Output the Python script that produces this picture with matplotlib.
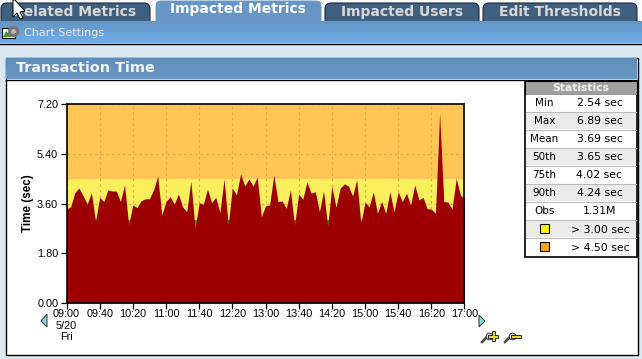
import numpy as np
import matplotlib
matplotlib.use("Agg")
import matplotlib.pyplot as plt
from matplotlib.patches import Rectangle, Polygon, FancyBboxPatch

W, H = 642, 359

# Data (one sample every 5 minutes from 09:00 to 17:00)
minutes = list(range(0, 485, 5))
time_sec = [
    3.40, 3.48, 3.99, 4.16, 3.88, 3.58, 3.99, 2.96, 3.82, 3.67,
    4.09, 4.05, 4.05, 3.67, 4.27, 2.82, 3.55, 3.45, 3.70, 3.77,
    3.77, 4.09, 4.59, 3.18, 3.67, 3.84, 3.58, 3.94, 3.48, 3.30,
    4.41, 2.70, 3.63, 3.57, 4.12, 3.63, 3.82, 3.27, 4.49, 2.82,
    4.16, 3.91, 4.67, 4.23, 4.49, 4.23, 4.55, 3.12, 3.51, 3.55,
    4.63, 3.67, 3.69, 3.42, 4.09, 2.82, 3.93, 3.76, 4.38, 3.97,
    4.03, 3.30, 4.05, 2.79, 4.23, 3.46, 4.15, 4.31, 4.23, 3.87,
    4.45, 2.88, 3.65, 3.48, 4.02, 3.24, 3.68, 3.24, 4.02, 3.30,
    4.02, 3.67, 3.97, 3.55, 4.27, 3.73, 3.82, 3.41, 3.40, 3.24,
    6.86, 3.67, 3.65, 3.40, 4.51, 3.91, 3.76,
]
y_ticks = [0, 1.8, 3.6, 5.4, 7.2]
x_ticks = list(range(0, 520, 40))
x_labels = ["09:00\n5/20\nFri", "09:40", "10:20", "11:00", "11:40", "12:20", "13:00",
            "13:40", "14:20", "15:00", "15:40", "16:20", "17:00"]
warn_level = 3.0
crit_level = 4.5

tab_names = ["Related Metrics", "Impacted Metrics", "Impacted Users", "Edit Thresholds"]
stat_names = ["Min", "Max", "Mean", "50th", "75th", "90th", "Obs"]
stat_values = ["2.54 sec", "6.89 sec", "3.69 sec", "3.65 sec", "4.02 sec", "4.24 sec", "1.31M"]
legend_labels = ["> 3.00 sec", "> 4.50 sec"]
legend_colors = ["#FBEF1C", "#FFA50A"]

UI = "DejaVu Sans"
TICK = "Liberation Sans"

fig = plt.figure(figsize=(W / 100, H / 100), dpi=100, facecolor="#DCE8F0")

# Page furniture goes on a full-size axes in pixel coordinates
bg = fig.add_axes([0, 0, 1, 1], zorder=0)
bg.axis("off")


def vgrad(x0, x1, y0, y1, top, bottom, zorder=1):
    c = matplotlib.colors.LinearSegmentedColormap.from_list("g", [top, bottom])
    bg.imshow(np.linspace(0, 1, 32)[:, None], cmap=c, extent=(x0, x1, y1, y0),
              aspect="auto", zorder=zorder)


# tab strip
bg.add_patch(Rectangle((0, 0), W, 21, fc="#FAFAFA", ec="none", zorder=0.5))
tabs = [(1, 150, 3, 75), (155, 322, 0, 238), (325, 479, 3, 402.5), (483, 637, 3, 560)]
for i, (x0, x1, top, xc) in enumerate(tabs):
    active = i == 1
    fc = "#6796C6" if active else "#3F5F80"
    bg.add_patch(FancyBboxPatch((x0 + 5, top + 5), x1 - x0 - 10, 18 - top, boxstyle="round,pad=5,rounding_size=6",
                                fc=fc, ec="white" if active else "#1C2C40", lw=0.8, zorder=1))
    bg.text(xc, 9.5 if active else 12, tab_names[i],
            family=UI, weight="bold", fontsize=10, color="white" if active else "#D8D8D8",
            ha="center", va="center", zorder=3)

# blue toolbar
vgrad(0, W, 21, 43, "#6595C5", "#70ABE8", zorder=2)
bg.plot([0, W], [43.5, 43.5], color="black", lw=1, zorder=3)
bg.text(24, 33, "Chart Settings", family=UI, fontsize=8, color="#E8EEF4", ha="left", va="center", zorder=3)

# settings icon
bg.add_patch(Rectangle((2, 28), 13, 10, fc="white", ec="black", lw=0.8, zorder=3))
bg.add_patch(Polygon([(3, 37), (6, 31), (9, 34), (13, 37)], fc="#3C9A2C", ec="none", zorder=4))
bg.scatter([13], [31], s=60, c="#777777", marker="8", zorder=5)
bg.scatter([13], [31], s=6, c="#BBBBBB", zorder=6)

# panel
bg.add_patch(Rectangle((5.5, 57.5), 632, 297, fc="white", ec="black", lw=1, zorder=1))
vgrad(6, 637, 58, 79, "#5F8DBB", "#6C98C4", zorder=2)
bg.plot([6, 637], [79.5, 79.5], color="black", lw=1, zorder=3)
bg.text(16, 68.5, "Transaction Time", family=UI, weight="bold", fontsize=10.4, color="#F2F5F8",
        ha="left", va="center", zorder=3)

# mouse cursor
bg.add_patch(Polygon([(13, 0), (13, 17), (17, 13), (20, 19), (23, 18), (20, 12), (25, 11), (15, 0)],
                     fc="white", ec="black", lw=0.7, zorder=8))

# statistics box
tx0, tx1 = 524.5, 637
bg.add_patch(Rectangle((tx0, 80.5), tx1 - tx0, 176, fc="white", ec="black", lw=1.2, zorder=3))
bg.add_patch(Rectangle((tx0, 80.5), tx1 - tx0, 14, fc="#A0A0A0", ec="black", lw=0.8, zorder=3))
bg.text((tx0 + tx1) / 2, 88, "Statistics", family=UI, weight="bold", fontsize=7.8, color="#F0F0F0",
        ha="center", va="center", zorder=5)
row_h = 17.95
row_top = 94.5
for i in range(len(stat_names) + len(legend_labels)):
    y0 = row_top + i * row_h
    bg.add_patch(Rectangle((tx0 + 1, y0), tx1 - tx0 - 2, row_h - 1,
                           fc="white" if i % 2 == 0 else "#EBEBEB", ec="none", zorder=4))
    if i:
        bg.plot([tx0 + 1, tx1 - 1], [y0 - 0.3, y0 - 0.3], color="#BBBBBB", lw=0.8, zorder=4)
    yc = y0 + row_h / 2
    if i < len(stat_names):
        bg.text(544.5, yc, stat_names[i], family=UI, fontsize=7.5, color="black", ha="center", va="center", zorder=5)
        bg.text(599.5, yc, stat_values[i], family=UI, fontsize=7.8, color="black", ha="center", va="center", zorder=5)
    else:
        j = i - len(stat_names)
        bg.add_patch(Rectangle((540, yc - 5), 9, 9, fc=legend_colors[j], ec="black", lw=0.8, zorder=5))
        bg.text(600, yc + 0.5, legend_labels[j], family=UI, fontsize=7.8, color="black", ha="center", va="center", zorder=5)

# scroll arrows
bg.add_patch(Polygon([(47, 314), (47, 327), (41, 321)], fc="#7FD8D8", ec="#333333", lw=0.7, zorder=3))
bg.add_patch(Polygon([(479, 315), (479, 327), (485, 321)], fc="#7FD8D8", ec="#333333", lw=0.7, zorder=3))

# zoom icons
for x, sign_v in [(482, True), (505, False)]:
    bg.plot([x, x + 5], [342, 337], color="#444444", lw=1.8, zorder=3)
    bg.scatter([x + 7], [336], s=24, c="#DDDDDD", edgecolors="black", linewidths=0.5, zorder=4)
    bg.plot([x + 8, x + 15], [336.5, 336.5], color="black", lw=2.6, zorder=5)
    bg.plot([x + 8, x + 15], [336.5, 336.5], color="#F5E020", lw=1.4, zorder=6)
    if sign_v:
        bg.plot([x + 11.5, x + 11.5], [333, 340], color="black", lw=2.6, zorder=5)
        bg.plot([x + 11.5, x + 11.5], [333, 340], color="#F5E020", lw=1.4, zorder=6)

bg.set_xlim(0, W)
bg.set_ylim(H, 0)

# The chart itself
left, right, top, bottom = 66.5, 464.5, 104, 303
ax = fig.add_axes([left / W, 1 - bottom / H, (right - left) / W, (bottom - top) / H], zorder=2)
ax.axhspan(0, warn_level, color="#4F9A2E", lw=0, zorder=0)
ax.axhspan(warn_level, crit_level, color="#F9EE5C", lw=0, zorder=0)
ax.axhspan(crit_level, y_ticks[-1], color="#FFC655", lw=0, zorder=0)
ax.grid(True, color="#E3A63C", ls=(0, (2, 3)), lw=0.8, zorder=1)
ax.set_axisbelow(True)
ax.fill_between(minutes, time_sec, 0, color="#9C0000", lw=0, zorder=2)

ax.set_xlim(0, 480)
ax.set_ylim(0, 7.2)
ax.set_xticks(x_ticks)
ax.set_xticklabels(x_labels, family=TICK, fontsize=7.8, linespacing=1.2, ha="center", va="top")
ax.set_yticks(y_ticks)
ax.set_yticklabels([f"{v:.2f}" for v in y_ticks], family=TICK, fontsize=7.8)
ax.tick_params(axis="x", length=4, width=0.9, pad=0.5)
ax.tick_params(axis="y", length=4, width=0.9, pad=2)
ax.set_ylabel("Time (sec)", family=TICK, weight="bold", fontsize=8.4, labelpad=2)
for s in ax.spines.values():
    s.set_linewidth(1.2)

fig.savefig("out.png", dpi=100, facecolor=fig.get_facecolor())
